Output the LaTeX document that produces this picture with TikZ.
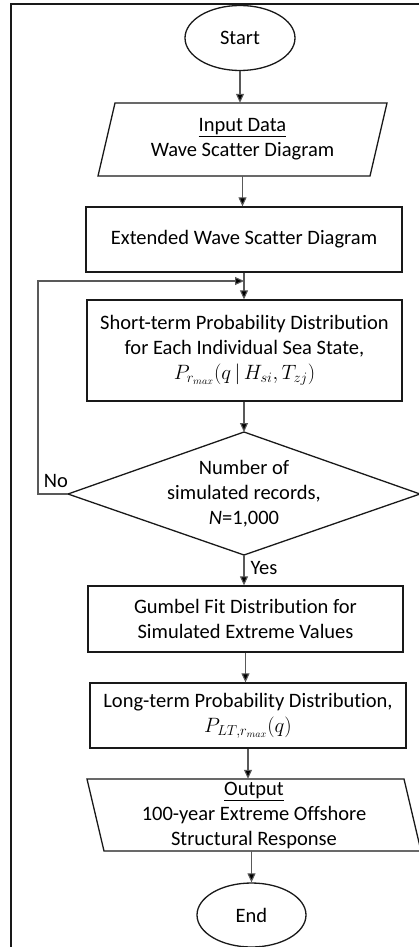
\documentclass[tikz,border=0pt]{standalone}
\usepackage{fontspec}
\setmainfont{Carlito}[Ligatures=NoCommon]
\usetikzlibrary{shapes.geometric,arrows.meta}
\begin{document}
\begin{tikzpicture}[x=1pt,y=-1pt,
  font=\fontsize{20.5}{25}\selectfont,
  box/.style={draw=black!90, line width=1.3pt, rectangle, inner sep=0pt, align=center},
  term/.style={draw=black!90, ellipse, line width=1.3pt, inner sep=0pt, minimum width=110pt, minimum height=65pt},
  shapeline/.style={draw=black!90, line width=1.3pt},
  conn/.style={draw=black!65, line width=1.1pt, -{Triangle[length=9pt,width=8pt,fill=black]}},
  lbl/.style={inner sep=0pt, align=center}]
\useasboundingbox (0,0) rectangle (419,947);
% frame
\draw[line width=2pt, black!90] (11,947) -- (11,4) -- (419,4);

\node[term] (start) at (240,38) {Start};

% input parallelogram
\draw[shapeline] (115,103) -- (387,103) -- (370,176) -- (98,176) -- cycle;
\node[lbl, minimum width=272pt, minimum height=73pt] (inp) at (242.5,139.5) {\underline{Input Data}\\Wave Scatter Diagram};

\node[box, minimum width=316pt, minimum height=65pt] (ext) at (244,239.5) {Extended Wave Scatter Diagram};

\node[box, minimum width=315pt, minimum height=101pt] (stp) at (244.5,350.5)
  {Short-term Probability Distribution\\for Each Individual Sea State,\\$P_{r_{max}}(q\,|\,H_{si},T_{zj})$};

% decision diamond
\coordinate (dt) at (244,432);
\coordinate (db) at (244,555);
\coordinate (dl) at (68,494);
\coordinate (dr) at (420,494);
\draw[shapeline] (dt) -- (dr) -- (db) -- (dl) -- cycle;
\node[lbl] (dec) at (244,494) {Number of\\simulated records,\\\textit{N}=1,000};

\node[box, minimum width=315pt, minimum height=66pt] (gum) at (245.5,619) {Gumbel Fit Distribution for\\Simulated Extreme Values};

\node[box, minimum width=316pt, minimum height=65pt] (lt) at (248,715.5) {Long-term Probability Distribution,\\$P_{LT,r_{max}}(q)$};

% output parallelogram
\draw[shapeline] (87,779) -- (404,779) -- (421,851) -- (104,851) -- cycle;
\node[lbl, minimum width=300pt, minimum height=72pt] (out) at (254,815) {\underline{Output}\\100-year Extreme Offshore\\Structural Response};

\node[term, minimum width=109pt, minimum height=64pt] (end) at (251.5,915) {End};

% connectors
\coordinate (join) at (244,281);
\coordinate (fbc) at (38,494);
\draw[conn] (start.south) -- (start.south |- inp.north);
\draw[conn] (inp.south) -- (inp.south |- ext.north);
\draw[conn] (ext.south) -- (ext.south |- stp.north);
\draw[conn] (stp.south -| dt) -- (dt);
\draw[conn] (db) -- node[lbl, pos=0.42, anchor=west, xshift=6pt] {Yes} (db |- gum.north);
\draw[conn] (gum.south) -- (gum.south |- lt.north);
\draw[conn] (lt.south) -- (lt.south |- out.north);
\draw[conn] (end.north |- out.south) -- (end.north);
\draw[conn] (dl) -- node[lbl, pos=0.4, above=6pt] {No} (fbc) |- (join);
\end{tikzpicture}
\end{document}
